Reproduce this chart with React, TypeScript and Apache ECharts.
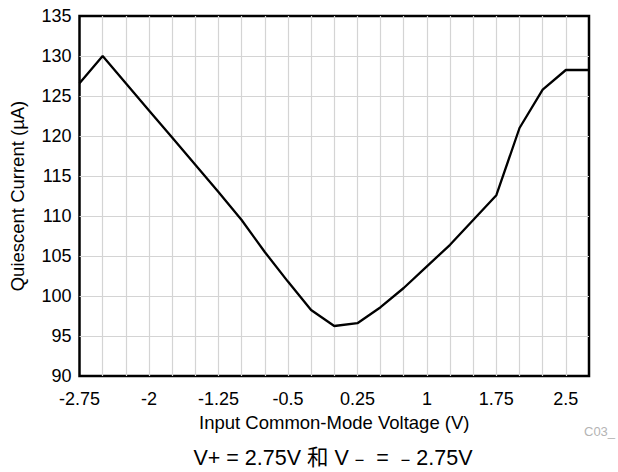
import React, { useEffect, useRef } from "react";
import * as echarts from "echarts";

const voltages = [-2.75, -2.5, -2.25, -2, -1.75, -1.5, -1.25, -1, -0.75, -0.5, -0.25, 0, 0.25, 0.5, 0.75, 1, 1.25, 1.5, 1.75, 2, 2.25, 2.5, 2.75];
const currents = [126.6, 130.0, 126.6, 123.2, 119.8, 116.4, 113.0, 109.5, 105.5, 101.8, 98.25, 96.25, 96.6, 98.6, 101.0, 103.7, 106.4, 109.5, 112.6, 121.0, 125.8, 128.25, 128.25];
const xMin = -2.75;
const xMax = 2.75;
const xGridStep = 0.25;
const xLabelStep = 0.75;
const yMin = 90;
const yMax = 135;
const yStep = 5;
const xAxisTitle = "Input Common-Mode Voltage (V)";
const yAxisTitle = "Quiescent Current (µA)";
const footnote = "V+ = 2.75V 和 V﹣ = ﹣2.75V";
const figId = "C03_";

const FONT = "'Liberation Sans', Arial, 'Noto Sans CJK SC', sans-serif";

export default function App() {
  const ref = useRef<HTMLDivElement>(null);
  useEffect(() => {
    if (!ref.current) return;
    const chart = echarts.init(ref.current, null, { renderer: "svg" });
    const data = voltages.map((v, i) => [v, currents[i]]);
    chart.setOption({
      animation: false,
      backgroundColor: "#fff",
      textStyle: { fontFamily: FONT },
      grid: {
        left: 79,
        top: 16,
        right: 29,
        bottom: 96,
        show: true,
        borderColor: "#000",
        borderWidth: 2.5,
        backgroundColor: "transparent",
      },
      xAxis: {
        type: "value",
        min: xMin,
        max: xMax,
        interval: xGridStep,
        name: xAxisTitle,
        nameLocation: "middle",
        nameGap: 37,
        nameTextStyle: { fontSize: 18.5, color: "#000", fontFamily: FONT },
        axisLine: { show: false },
        axisTick: { show: false },
        axisLabel: {
          fontSize: 18,
          color: "#000",
          margin: 14,
          fontFamily: FONT,
          formatter: (val: number) => {
            const k = (val - xMin) / xLabelStep;
            if (Math.abs(k - Math.round(k)) < 1e-6) {
              return String(parseFloat(val.toFixed(2)));
            }
            return "";
          },
        },
        splitLine: {
          show: true,
          showMinLine: false,
          showMaxLine: false,
          lineStyle: { color: "#d4d4d4", width: 1.2 },
        },
      },
      yAxis: {
        type: "value",
        min: yMin,
        max: yMax,
        interval: yStep,
        name: yAxisTitle,
        nameLocation: "middle",
        nameGap: 53,
        nameTextStyle: { fontSize: 18.5, color: "#000", fontFamily: FONT },
        axisLine: { show: false },
        axisTick: { show: false },
        axisLabel: { fontSize: 18, color: "#000", margin: 8, fontFamily: FONT },
        splitLine: {
          show: true,
          showMinLine: false,
          showMaxLine: false,
          lineStyle: { color: "#d4d4d4", width: 1.2 },
        },
      },
      series: [
        {
          type: "line",
          data,
          showSymbol: false,
          symbol: "none",
          lineStyle: { color: "#000", width: 2.3 },
          z: 5,
        },
      ],
      graphic: [
        {
          type: "text",
          left: 584,
          top: 425,
          style: { text: figId, fontSize: 13, fill: "#b4b4b4", fontFamily: FONT },
        },
        {
          type: "text",
          x: 333,
          y: 458,
          style: {
            text: footnote,
            fontSize: 21.5,
            fill: "#000",
            fontFamily: FONT,
            align: "center",
            verticalAlign: "middle",
          },
        },
      ],
    });
    return () => chart.dispose();
  }, []);
  return <div ref={ref} style={{ width: 618, height: 472, position: "absolute", left: 0, top: 0 }} />;
}
